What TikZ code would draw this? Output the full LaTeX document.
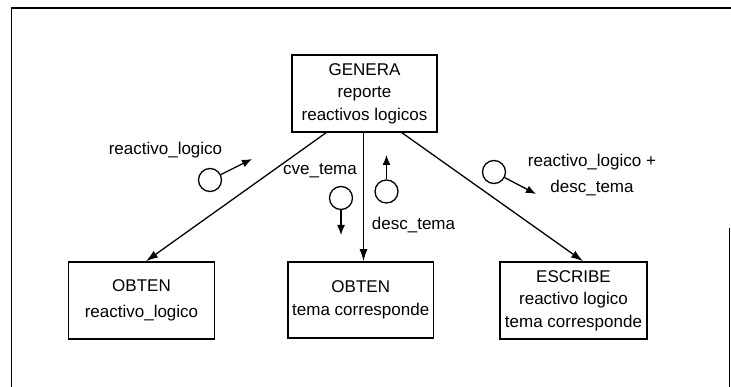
\documentclass[tikz,border=0pt]{standalone}
\usepackage{fontspec}
\setmainfont{Liberation Sans}
\usetikzlibrary{arrows.meta}
\begin{document}
\begin{tikzpicture}[x=1pt,y=-1pt,
  box/.style={draw,line width=1.6pt,rectangle,align=center,inner sep=0pt,font=\fontsize{17}{22.5}\selectfont},
  lbl/.style={inner sep=0pt,align=center,font=\fontsize{17}{26}\selectfont},
  flow/.style={line width=1.3pt,-{Latex[length=12pt,width=8pt]}},
  couple/.style={draw,circle,line width=1.3pt,minimum size=23pt,inner sep=0pt},
  cflow/.style={line width=1.3pt,-{Latex[length=10pt,width=8pt]}},
  frame/.style={line width=1.6pt}]
\useasboundingbox (0,0) rectangle (731,387);
\draw[frame] (11.5,387) -- (11.5,8) -- (731,8);
\draw[frame] (729.5,228) -- (729.5,387);
% boxes
\node[box,minimum width=145pt,minimum height=77pt] (gen) at (364.5,93.5) {GENERA\\reporte\\reactivos logicos};
\node[box,minimum width=146pt,minimum height=77pt] (ob1) at (141.5,300.5) {OBTEN\\[3pt]reactivo\_logico};
\node[box,minimum width=145.5pt,minimum height=76pt] (ob2) at (360.75,300) {OBTEN\\tema corresponde};
\node[box,minimum width=147pt,minimum height=77pt] (esc) at (573.5,300.5) {ESCRIBE\\reactivo logico\\tema corresponde};
% connectors
\draw[flow] ([xshift=-38.5pt]gen.south) -- ([xshift=4.5pt]ob1.north);
\draw[flow] ([xshift=-1pt]gen.south) -- ([xshift=2.75pt]ob2.north);
\draw[flow] ([xshift=37.5pt]gen.south) -- ([xshift=9.5pt]esc.north);
% data couples
\node[couple] (c1) at (210,180) {};
\coordinate (t1) at (252,159);
\draw[cflow] (c1) -- (t1);
\node[couple] (c2) at (341,198) {};
\coordinate (t2) at (341,235);
\draw[cflow] (c2) -- (t2);
\node[couple] (c3) at (386.5,191.5) {};
\coordinate (t3) at (386.5,155);
\draw[cflow] (c3) -- (t3);
\node[couple] (c4) at (494,172) {};
\coordinate (t4) at (536,194);
\draw[cflow] (c4) -- (t4);
% labels
\node[lbl] (l1) at (165.5,150) {reactivo\_logico};
\node[lbl] (l2) at (320,171) {cve\_tema};
\node[lbl] (l3) at (413.5,225) {desc\_tema};
\node[lbl] (l4) at (592,175) {reactivo\_logico +\\desc\_tema};
\end{tikzpicture}
\end{document}
